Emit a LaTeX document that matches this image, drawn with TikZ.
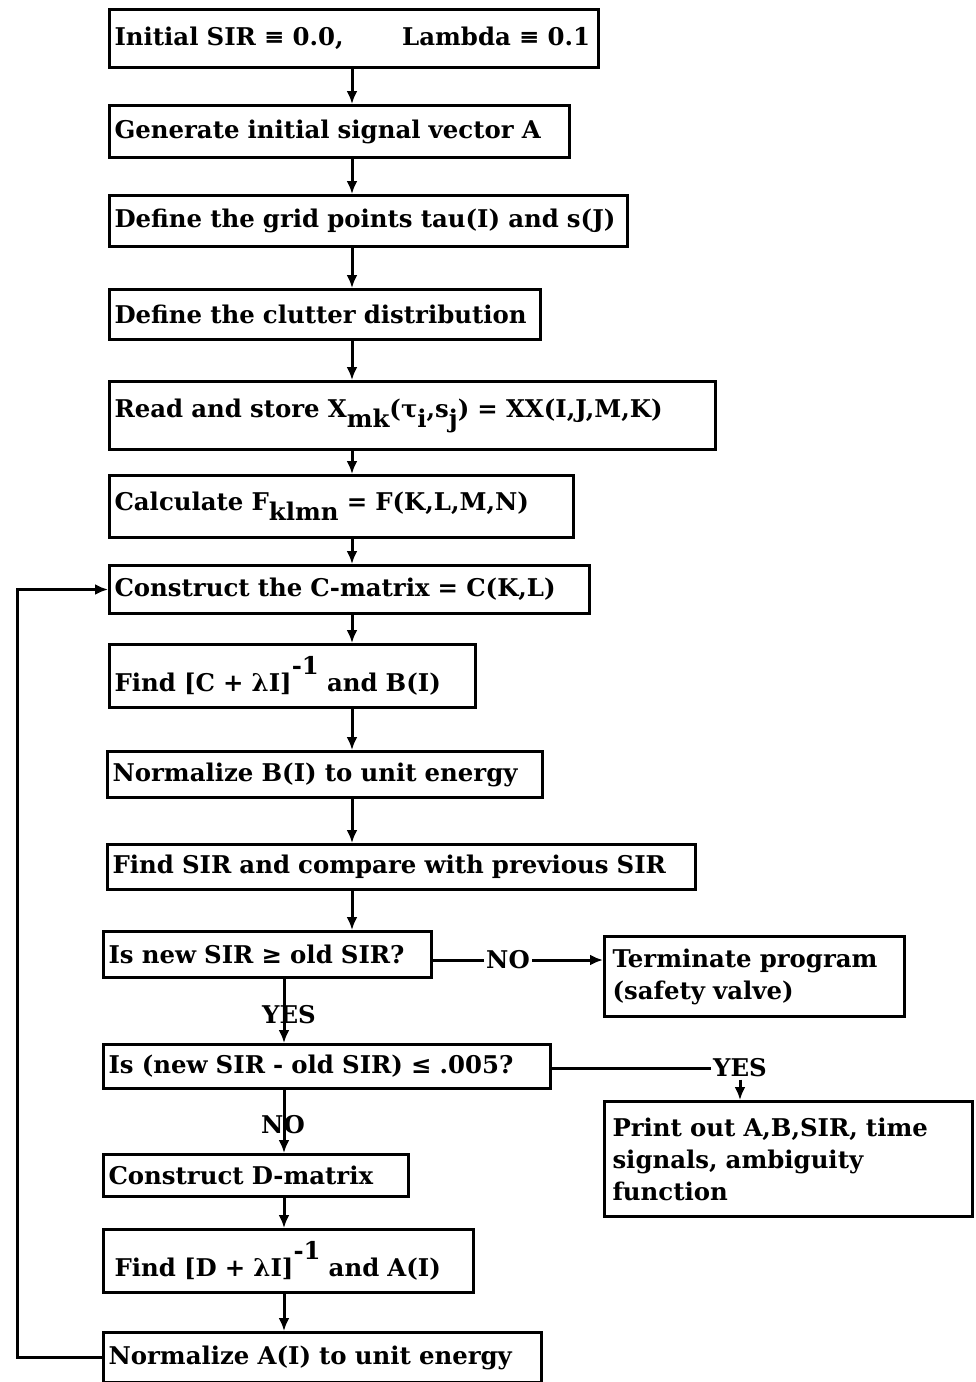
\documentclass[tikz,border=0pt]{standalone}
\usepackage{fontspec}
\setmainfont{DejaVu Serif}
\usetikzlibrary{arrows.meta}
\hyphenpenalty=10000
\newcommand{\lowr}[1]{\raisebox{-0.8ex}{#1}}
\newcommand{\highr}[1]{\raisebox{1.3ex}{#1}}
\tikzset{
  box/.style={draw, line width=1.5pt, anchor=north west, inner xsep=2.5pt, inner ysep=1pt, align=left, font=\fontsize{12.2}{16}\selectfont\bfseries},
  lbl/.style={inner sep=1pt, font=\fontsize{12.2}{14}\selectfont\bfseries},
  arr/.style={line width=1.5pt, -{Latex[length=6.5pt,width=5.5pt]}},
  ln/.style={line width=1.5pt}
}
\begin{document}
\begin{tikzpicture}[x=0.5pt, y=-0.5pt]
            \useasboundingbox (0,0) rectangle (975,1382);
            \coordinate (spine) at (352,0);
            \coordinate (stem) at (284,0);
            % Main column
            \node[box, text width=239.5pt, minimum height=29pt] (init) at (108,8) {Initial SIR ≡ 0.0,\hspace{2.4em}Lambda ≡ 0.1};
            \node[box, text width=225pt, minimum height=26pt] (gen) at (108,104) {Generate initial signal vector A};
            \node[box, text width=254pt, minimum height=25.5pt] (grid) at (108,194) {Define the grid points tau(I) and s(J)};
            \node[box, text width=210.5pt, minimum height=25pt] (clut) at (108,288) {Define the clutter distribution};
            \node[box, text width=298pt, minimum height=34pt] (read) at (108,380) {Read and store X\lowr{mk}(τ\lowr{i},s\lowr{j}) = XX(I,J,M,K)};
            \node[box, text width=227pt, minimum height=31pt] (calc) at (108,474) {Calculate F\lowr{klmn} = F(K,L,M,N)};
            \node[box, text width=235pt, minimum height=24pt] (consC) at (108,564) {Construct the C-matrix = C(K,L)};
            \node[box, text width=178pt, minimum height=31.5pt] (findC) at (108,643) {Find [C + λI]\highr{-1} and B(I)};
            \node[box, text width=212.5pt, minimum height=23pt] (normB) at (106,750) {Normalize B(I) to unit energy};
            \node[box, text width=289pt, minimum height=22.5pt] (sir) at (106,843) {Find SIR and compare with previous SIR};
            % Tests
            \node[box, text width=159pt, minimum height=23pt] (test1) at (102,930) {Is new SIR ≥ old SIR?};
            \node[box, text width=142pt, inner xsep=4pt, minimum height=40pt] (term) at (603,935) {Terminate program\\(safety valve)};
            \node[box, text width=218.5pt, minimum height=22pt] (test2) at (102,1043) {Is (new SIR - old SIR) ≤ .005?};
            \node[box, text width=176pt, inner xsep=4pt, minimum height=57.5pt] (print) at (603,1100) {Print out A,B,SIR, time\\signals, ambiguity\\function};
            \node[box, text width=147.5pt, minimum height=21pt] (consD) at (102,1153) {Construct D-matrix};
            \node[box, text width=174pt, inner xsep=5.5pt, minimum height=31.5pt] (findD) at (102,1228) {Find [D + λI]\highr{-1} and A(I)};
            \node[box, text width=214pt, minimum height=25pt] (normA) at (102,1331) {Normalize A(I) to unit energy};
            % Branch labels
            \node[lbl] (no1) at (508,960) {NO};
            \node[lbl] (yes1) at (289,1015) {YES};
            \node[lbl] (yes2) at (740,1068) {YES};
            \node[lbl] (no2) at (283,1125) {NO};
            % Flow
            \foreach \a/\b in {init/gen, gen/grid, grid/clut, clut/read, read/calc, calc/consC, consC/findC, findC/normB, normB/sir, sir/test1}
              \draw[arr] (\a.south -| spine) -- (\b.north -| spine);
            \draw[arr] (test1.south -| stem) -- (test2.north -| stem);
            \draw[arr] (test2.south -| stem) -- (consD.north -| stem);
            \draw[arr] (consD.south -| stem) -- (findD.north -| stem);
            \draw[arr] (findD.south -| stem) -- (normA.north -| stem);
            \draw[ln] (test1.east |- no1) -- (no1.west);
            \draw[arr] (no1.east) -- (term.west |- no1);
            \draw[ln] (test2.east |- yes2) -- (yes2.west);
            \draw[arr] (yes2.south) -- (print.north -| yes2);
            % Loop back
            \draw[arr] (normA.west) -- ++(-85,0) |- (consC.west);
        \end{tikzpicture}
\end{document}
